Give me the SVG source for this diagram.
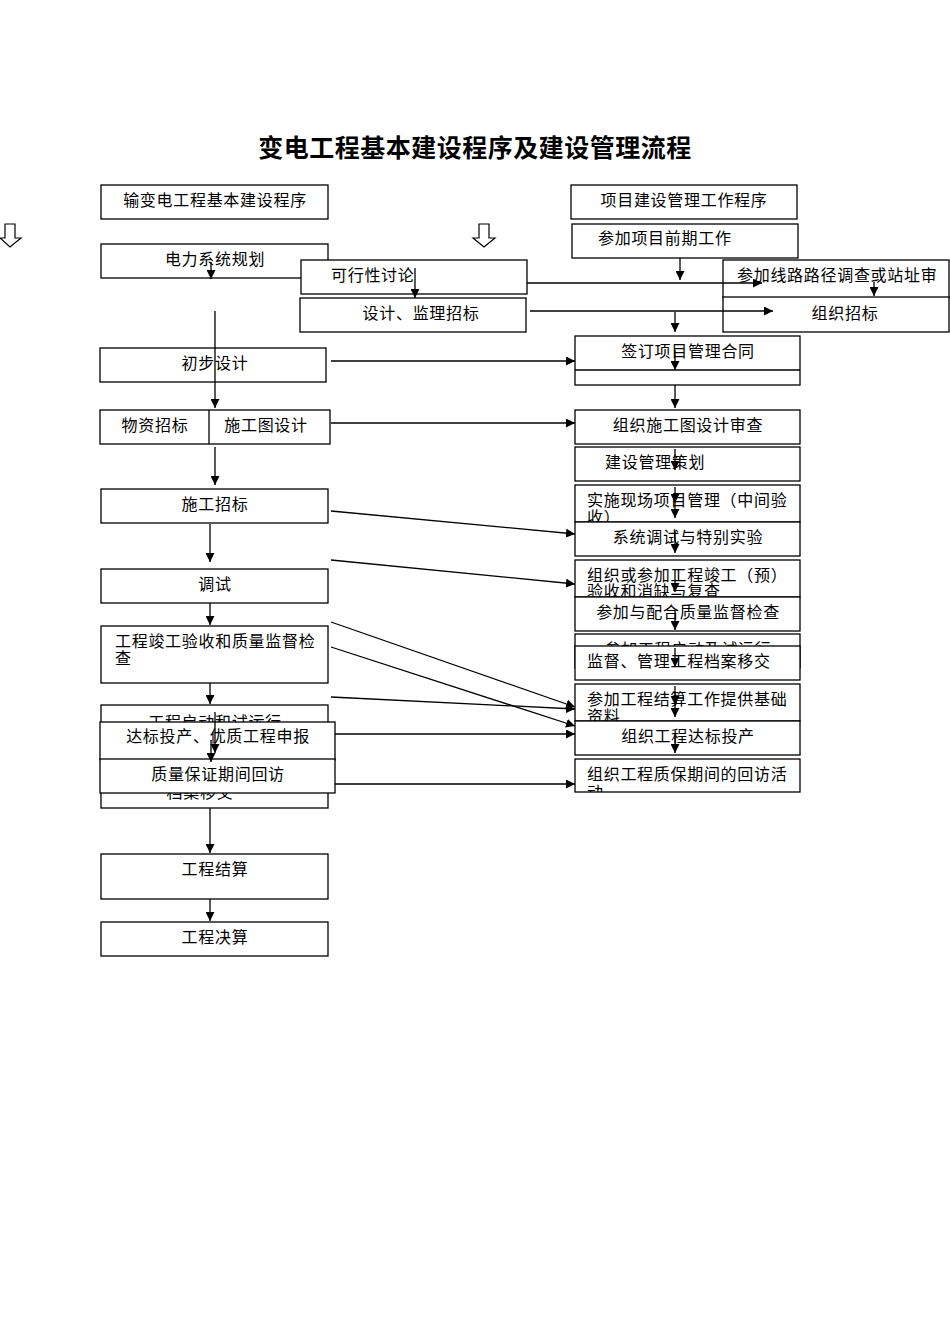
<svg xmlns="http://www.w3.org/2000/svg" width="950" height="1344" viewBox="0 0 950 1344">
<style>
rect.b{fill:#fff;stroke:#000;stroke-width:1.3}
line.d{stroke:#000;stroke-width:1.3}
text{font-family:"Liberation Serif","Noto Sans CJK SC",serif;font-size:16px;letter-spacing:0.7px;fill:#000}
text.c{text-anchor:middle}
text.t{font-size:25px;font-weight:bold;letter-spacing:0.5px}
#connectors line{stroke:#000;stroke-width:1.3;marker-end:url(#ah)}
.hollow{fill:#fff;stroke:#000;stroke-width:1.2}
</style>
<defs>
<marker id="ah" viewBox="0 0 10 10" refX="10" refY="5" markerWidth="9" markerHeight="9" markerUnits="userSpaceOnUse" orient="auto">
<path d="M0,0 L10,5 L0,10 Z" fill="#000"/>
</marker>
<clipPath id="cR16"><rect x="575" y="759" width="225" height="33"/></clipPath>
<clipPath id="cR12"><rect x="575" y="634" width="225" height="12"/></clipPath>
<clipPath id="cL9a"><rect x="101" y="705" width="227" height="17"/></clipPath>
<clipPath id="cL9b"><rect x="101" y="793" width="227" height="15"/></clipPath>
</defs>
<rect width="950" height="1344" fill="#fff"/>
<text class="t c" x="475" y="157">变电工程基本建设程序及建设管理流程</text>

<polygon class="hollow" points="5,224 15,224 15,238 21,238 10,247 0,238 5,238"/>
<polygon class="hollow" points="479,224 489,224 489,238 495,238 484,247 473,238 479,238"/>

<g id="L0"><rect class="b" x="101" y="185" width="227" height="34"/><text class="c" x="215" y="206">输变电工程基本建设程序</text></g>
<g id="R1"><rect class="b" x="571" y="185" width="226" height="34"/><text class="c" x="684" y="206">项目建设管理工作程序</text></g>
<g id="R2"><rect class="b" x="572" y="224" width="226" height="34"/><text x="598" y="244">参加项目前期工作</text></g>
<g id="L1"><rect class="b" x="101" y="244" width="227" height="34"/><text class="c" x="215" y="265">电力系统规划</text></g>
<g id="L2"><rect class="b" x="301" y="260" width="226" height="34"/><text x="331" y="281">可行性讨论</text></g>
<g id="L3"><rect class="b" x="300" y="298" width="226" height="34"/><text class="c" x="421" y="319">设计、监理招标</text></g>
<g id="R3"><rect class="b" x="723" y="260" width="226" height="38"/><text x="737" y="281">参加线路路径调查或站址审</text></g>
<g id="R4"><rect class="b" x="723" y="297" width="226" height="35"/><text class="c" x="845" y="319">组织招标</text></g>
<g id="L4"><rect class="b" x="100" y="348" width="226" height="34"/><text class="c" x="215" y="369">初步设计</text></g>
<g id="R5"><rect class="b" x="575" y="336" width="225" height="49"/><line class="d" x1="575" y1="370" x2="800" y2="370"/><text class="c" x="688" y="357">签订项目管理合同</text></g>
<g id="L5"><rect class="b" x="100" y="410" width="230" height="34"/><line class="d" x1="209" y1="410" x2="209" y2="444"/><text class="c" x="155" y="431">物资招标</text><text class="c" x="266" y="431">施工图设计</text></g>
<g id="R6"><rect class="b" x="575" y="410" width="225" height="34"/><text class="c" x="688" y="431">组织施工图设计审查</text></g>
<g id="R7"><rect class="b" x="575" y="447" width="225" height="34"/><text x="605" y="468">建设管理策划</text></g>
<g id="L6"><rect class="b" x="101" y="489" width="227" height="34"/><text class="c" x="215" y="510">施工招标</text></g>
<g id="R8"><rect class="b" x="575" y="485" width="225" height="37"/><text x="587" y="506">实施现场项目管理（中间验</text><text x="587" y="523">收）</text></g>
<g id="R9"><rect class="b" x="575" y="522" width="225" height="34"/><text class="c" x="688" y="543">系统调试与特别实验</text></g>
<g id="L7"><rect class="b" x="101" y="569" width="227" height="34"/><text class="c" x="215" y="590">调试</text></g>
<g id="R10"><rect class="b" x="575" y="560" width="225" height="37"/><text x="587" y="581">组织或参加工程竣工（预）</text><text x="587" y="597">验收和消缺与复查</text></g>
<g id="R11"><rect class="b" x="575" y="597" width="225" height="34"/><text class="c" x="688" y="618">参加与配合质量监督检查</text></g>
<g id="L8"><rect class="b" x="101" y="626" width="227" height="57"/><text x="115" y="647">工程竣工验收和质量监督检</text><text x="115" y="664">查</text></g>
<g id="R12"><rect class="b" x="575" y="634" width="225" height="34"/><g clip-path="url(#cR12)"><text class="c" x="688" y="655">参加工程启动及试运行</text></g></g>
<g id="R13"><rect class="b" x="575" y="646" width="225" height="34"/><text x="587" y="667">监督、管理工程档案移交</text></g>
<g id="R14"><rect class="b" x="575" y="684" width="225" height="37"/><text x="587" y="705">参加工程结算工作提供基础</text><text x="587" y="722">资料</text></g>
<g id="R15"><rect class="b" x="575" y="721" width="225" height="34"/><text class="c" x="688" y="742">组织工程达标投产</text></g>
<g id="R16"><rect class="b" x="575" y="759" width="225" height="33"/><g clip-path="url(#cR16)"><text x="587" y="780">组织工程质保期间的回访活</text><text x="587" y="798">动</text></g></g>
<g id="L9"><rect class="b" x="101" y="705" width="227" height="103"/><g clip-path="url(#cL9a)"><text class="c" x="215" y="728">工程启动和试运行</text></g><g clip-path="url(#cL9b)"><text class="c" x="200" y="798">档案移交</text></g></g>
<g id="L10"><rect class="b" x="100" y="722" width="235" height="38"/><text class="c" x="218" y="742">达标投产、优质工程申报</text></g>
<g id="L11"><rect class="b" x="100" y="759" width="235" height="34"/><text class="c" x="218" y="780">质量保证期间回访</text></g>
<g id="L12"><rect class="b" x="101" y="854" width="227" height="45"/><text class="c" x="215" y="875">工程结算</text></g>
<g id="L13"><rect class="b" x="101" y="922" width="227" height="34"/><text class="c" x="215" y="943">工程决算</text></g>

<g id="connectors">
<line x1="211" y1="262" x2="211" y2="279"/>
<line x1="415" y1="268" x2="415" y2="298"/>
<line x1="215" y1="311" x2="215" y2="408"/>
<line x1="215" y1="447" x2="215" y2="485"/>
<line x1="210" y1="524" x2="210" y2="562"/>
<line x1="210" y1="603" x2="210" y2="625"/>
<line x1="210" y1="683" x2="210" y2="704"/>
<line x1="215" y1="712" x2="215" y2="753"/>
<line x1="211" y1="740" x2="211" y2="762"/>
<line x1="210" y1="808" x2="210" y2="853"/>
<line x1="210" y1="899" x2="210" y2="921"/>
<line x1="680" y1="258" x2="680" y2="280"/>
<line x1="874" y1="282" x2="874" y2="296"/>
<line x1="675" y1="312" x2="675" y2="332"/>
<line x1="675" y1="350" x2="675" y2="370"/>
<line x1="675" y1="385" x2="675" y2="408"/>
<line x1="675" y1="449" x2="675" y2="470"/>
<line x1="675" y1="487" x2="675" y2="503"/>
<line x1="675" y1="503" x2="675" y2="518"/>
<line x1="675" y1="530" x2="675" y2="553"/>
<line x1="675" y1="570" x2="675" y2="592"/>
<line x1="675" y1="610" x2="675" y2="630"/>
<line x1="675" y1="648" x2="675" y2="667"/>
<line x1="675" y1="686" x2="675" y2="705"/>
<line x1="675" y1="705" x2="675" y2="717"/>
<line x1="675" y1="735" x2="675" y2="753"/>
<line x1="527" y1="283" x2="762" y2="283"/>
<line x1="530" y1="311" x2="773" y2="311"/>
<line x1="331" y1="361" x2="575" y2="361"/>
<line x1="331" y1="423" x2="575" y2="423"/>
<line x1="331" y1="511" x2="575" y2="534"/>
<line x1="331" y1="560" x2="575" y2="584"/>
<line x1="331" y1="622" x2="575" y2="707"/>
<line x1="331" y1="647" x2="575" y2="726"/>
<line x1="331" y1="697" x2="575" y2="709"/>
<line x1="335" y1="734" x2="575" y2="734"/>
<line x1="335" y1="784" x2="575" y2="784"/>
</g>
</svg>
